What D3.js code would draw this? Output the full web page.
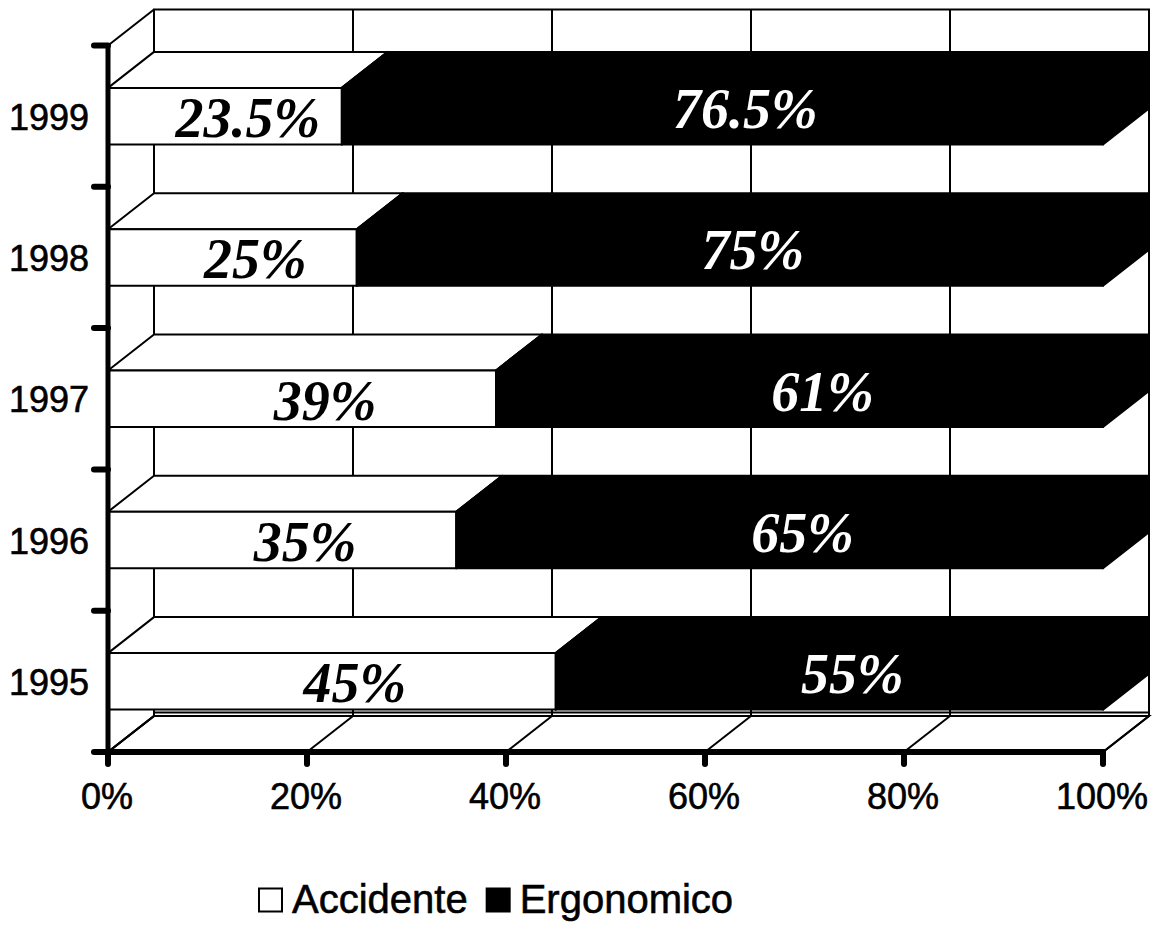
<!DOCTYPE html>
<html>
<head>
<meta charset="utf-8">
<script src="https://cdn.jsdelivr.net/npm/d3@7/dist/d3.min.js"></script>
<style>
  html, body { margin: 0; padding: 0; background: #fff; }
  svg { display: block; }
  .axis-text { font-family: "Liberation Sans", Arial, sans-serif; font-size: 36px; fill: #000; stroke: #000; stroke-width: 0.6px; }
  .value-text { font-family: "Liberation Serif", "Times New Roman", serif; font-style: italic; font-weight: bold; font-size: 56px; }
  .legend-text { font-family: "Liberation Sans", Arial, sans-serif; font-size: 40px; fill: #000; stroke: #000; stroke-width: 0.6px; }
</style>
</head>
<body>
<svg id="chart" width="1156" height="926"></svg>
<script>
// Share of cases per year, by type
const categories = ["1995", "1996", "1997", "1998", "1999"];
const accidente = [45, 35, 39, 25, 23.5];
const ergonomico = [55, 65, 61, 75, 76.5];
const seriesNames = ["Accidente", "Ergonomico"];
const xTickValues = [0, 20, 40, 60, 80, 100];
const xTickLabels = ["0%", "20%", "40%", "60%", "80%", "100%"];

(function () {
  const svg = d3.select("#chart");

  // front plane of the 3-D box and the depth offset of its back plane
  const pLeft = 108, pRight = 1103, pTop = 45.5, pBottom = 752;
  const DX = 46, DY = -36;

  const x = d3.scaleLinear().domain([0, 100]).range([pLeft, pRight]);
  const yBand = d3.scaleBand()
    .domain(categories.slice().reverse())
    .range([pTop, pBottom])
    .padding(0);
  const step = yBand.step();
  const barY = c => yBand(c) + step * 0.3;
  const barH = step * 0.4;

  const table = categories.map((c, i) => ({ year: c, Accidente: accidente[i], Ergonomico: ergonomico[i] }));
  const stacked = d3.stack().keys(seriesNames)(table);

  const poly = d3.line();
  const shape = pts => poly(pts) + "Z";

  // ---- walls and floor ----
  const walls = svg.append("g").attr("fill", "none").attr("stroke", "#000").attr("stroke-width", 2);

  // back wall
  walls.append("path").attr("fill", "#fff").attr("d", shape([
    [pLeft + DX, pTop + DY], [pRight + DX, pTop + DY], [pRight + DX, pBottom + DY], [pLeft + DX, pBottom + DY]
  ]));
  // floor
  walls.append("path").attr("fill", "#fff").attr("d", shape([
    [pLeft, pBottom], [pRight, pBottom], [pRight + DX, pBottom + DY], [pLeft + DX, pBottom + DY]
  ]));
  // floor thickness line along the wall base
  walls.append("line")
    .attr("x1", pLeft + DX).attr("x2", pRight + DX)
    .attr("y1", pBottom + DY - 3.5).attr("y2", pBottom + DY - 3.5);
  // left wall edges
  walls.append("line").attr("x1", pLeft).attr("y1", pTop).attr("x2", pLeft + DX).attr("y2", pTop + DY);
  walls.append("line").attr("x1", pLeft).attr("y1", pBottom).attr("x2", pLeft + DX).attr("y2", pBottom + DY);

  // vertical gridlines on the back wall and their floor diagonals
  xTickValues.forEach(v => {
    walls.append("line")
      .attr("x1", x(v) + DX).attr("x2", x(v) + DX)
      .attr("y1", pTop + DY).attr("y2", pBottom + DY);
    walls.append("line")
      .attr("x1", x(v)).attr("y1", pBottom)
      .attr("x2", x(v) + DX).attr("y2", pBottom + DY);
  });

  // ---- bars ----
  const bars = svg.append("g");
  const fills = { Accidente: "#fff", Ergonomico: "#000" };

  stacked.forEach(layer => {
    const key = layer.key;
    layer.forEach(d => {
      const c = d.data.year;
      const x0 = x(d[0]), x1 = x(d[1]);
      const yt = barY(c), yb = yt + barH;
      const g = bars.append("g")
        .attr("fill", fills[key])
        .attr("stroke", "#000")
        .attr("stroke-width", 2)
        .attr("stroke-linejoin", "round");
      // top face
      g.append("path").attr("d", shape([[x0, yt], [x1, yt], [x1 + DX, yt + DY], [x0 + DX, yt + DY]]));
      // right face
      g.append("path").attr("d", shape([[x1, yt], [x1 + DX, yt + DY], [x1 + DX, yb + DY], [x1, yb]]));
      // front face
      g.append("path").attr("d", shape([[x0, yt], [x1, yt], [x1, yb], [x0, yb]]));
    });
  });

  // value labels
  const labels = svg.append("g").attr("class", "value-text").attr("text-anchor", "middle");
  stacked.forEach(layer => {
    const key = layer.key;
    const ink = key === "Accidente" ? "#000" : "#fff";
    layer.forEach(d => {
      const c = d.data.year;
      const cy = barY(c) + barH / 2;
      labels.append("text")
        .attr("x", x((d[0] + d[1]) / 2) + DX / 2)
        .attr("y", cy + (key === "Accidente" ? 21 : 12))
        .attr("fill", ink)
        .text(d.data[key] + "%");
    });
  });

  // ---- axes ----
  const axes = svg.append("g").attr("stroke", "#000").attr("stroke-linecap", "round");
  // category axis
  axes.append("line").attr("x1", pLeft).attr("x2", pLeft).attr("y1", pTop).attr("y2", pBottom).attr("stroke-width", 5);
  const yTickPos = categories.slice().reverse().map(c => yBand(c)).concat([pBottom]);
  yTickPos.forEach(p => {
    axes.append("line").attr("x1", pLeft - 14).attr("x2", pLeft).attr("y1", p).attr("y2", p).attr("stroke-width", 6);
  });
  // value axis
  axes.append("line").attr("x1", pLeft).attr("x2", pRight).attr("y1", pBottom).attr("y2", pBottom).attr("stroke-width", 6);
  xTickValues.forEach(v => {
    axes.append("line").attr("x1", x(v)).attr("x2", x(v)).attr("y1", pBottom).attr("y2", pBottom + 12).attr("stroke-width", 6);
  });

  // tick labels
  const tl = svg.append("g").attr("class", "axis-text");
  categories.forEach(c => {
    tl.append("text")
      .attr("x", 89)
      .attr("y", yBand(c) + step / 2 + 13.5)
      .attr("text-anchor", "end")
      .text(c);
  });
  xTickValues.forEach((v, i) => {
    tl.append("text")
      .attr("x", x(v) - 1)
      .attr("y", 809)
      .attr("text-anchor", "middle")
      .text(xTickLabels[i]);
  });

  // ---- legend ----
  const legend = svg.append("g");
  let lx = 258;
  seriesNames.forEach(name => {
    legend.append("rect")
      .attr("x", lx + 1).attr("y", 888.5)
      .attr("width", 23).attr("height", 23)
      .attr("fill", fills[name]).attr("stroke", "#000").attr("stroke-width", 2);
    const t = legend.append("text")
      .attr("class", "legend-text")
      .attr("x", lx + 34).attr("y", 913)
      .text(name);
    lx = lx + 34 + t.node().getComputedTextLength() + 18;
  });
})();
</script>
</body>
</html>
